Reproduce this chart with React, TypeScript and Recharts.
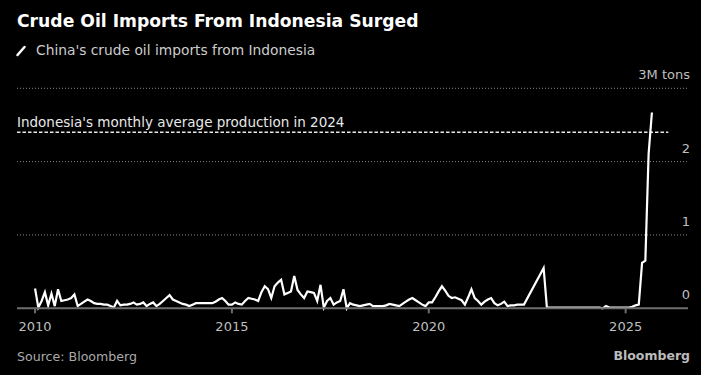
import React from 'react';
import { LineChart, Line, XAxis, YAxis, ReferenceLine } from 'recharts';

// China's crude oil imports from Indonesia, million tons, monthly from Jan 2010
const imports2010 = [0.27, 0.01, 0.1, 0.22, 0.04, 0.2, 0.03, 0.26, 0.1, 0.11, 0.12, 0.14];
const imports2011 = [0.19, 0.03, 0.06, 0.09, 0.12, 0.1, 0.07, 0.06, 0.06, 0.05, 0.05, 0.03];
const imports2012 = [0.01, 0.1, 0.04, 0.05, 0.05, 0.06, 0.08, 0.05, 0.06, 0.08, 0.03, 0.06];
const imports2013 = [0.08, 0.03, 0.06, 0.1, 0.14, 0.18, 0.12, 0.1, 0.08, 0.06, 0.05, 0.03];
const imports2014 = [0.05, 0.07, 0.07, 0.07, 0.07, 0.07, 0.07, 0.09, 0.12, 0.14, 0.1, 0.05];
const imports2015 = [0.05, 0.08, 0.06, 0.05, 0.1, 0.14, 0.13, 0.12, 0.1, 0.22, 0.3, 0.26];
const imports2016 = [0.14, 0.3, 0.35, 0.39, 0.19, 0.21, 0.23, 0.44, 0.25, 0.19, 0.14, 0.23];
const imports2017 = [0.22, 0.21, 0.1, 0.32, 0.01, 0.1, 0.14, 0.05, 0.08, 0.1, 0.26, 0.0];
const imports2018 = [0.07, 0.05, 0.04, 0.03, 0.04, 0.05, 0.06, 0.03, 0.03, 0.03, 0.03, 0.04];
const imports2019 = [0.06, 0.05, 0.04, 0.03, 0.06, 0.09, 0.12, 0.14, 0.11, 0.08, 0.05, 0.03];
const imports2020 = [0.08, 0.08, 0.15, 0.23, 0.3, 0.24, 0.17, 0.14, 0.15, 0.13, 0.11, 0.05];
const imports2021 = [0.15, 0.26, 0.14, 0.1, 0.05, 0.09, 0.12, 0.14, 0.07, 0.04, 0.06, 0.09];
const imports2022 = [0.03, 0.04, 0.04, 0.05, 0.05, 0.05, null, null, null, null, null, 0.55];
const imports2023 = [0.01, 0.01, 0.01, 0.01, 0.01, 0.01, 0.01, 0.01, 0.01, 0.01, 0.01, 0.01];
const imports2024 = [0.01, 0.01, 0.01, 0.01, 0.01, 0.0, 0.03, 0.01, 0.01, 0.01, 0.01, 0.01];
const imports2025 = [0.01, 0.01, 0.02, 0.04, 0.05, 0.62, 0.65, 2.11, 2.67];

const startYear = 2010;
const xTickYears = [2010, 2015, 2020, 2025];
const yTickValues = [0, 1, 2, 3];
const yTickLabels = ['0', '1', '2', '3M tons'];
const productionAvg2024 = 2.4;
const productionLabel = "Indonesia's monthly average production in 2024";

const allValues: (number | null)[] = [
  ...imports2010, ...imports2011, ...imports2012, ...imports2013,
  ...imports2014, ...imports2015, ...imports2016, ...imports2017,
  ...imports2018, ...imports2019, ...imports2020, ...imports2021,
  ...imports2022, ...imports2023, ...imports2024, ...imports2025,
];
const data = allValues.map((v, i) => ({ m: i, v }));
const xTicks = xTickYears.map((y) => (y - startYear) * 12);

const FONT = '"DejaVu Sans", Verdana, sans-serif';

const makeYLabel = (text: string) => (props: any) => {
  const vb = props.viewBox || {};
  return (
    <text x={vb.x + vb.width + 2} y={vb.y - 9} textAnchor="end" fontSize={13} fill="#bfbfbf" fontFamily={FONT}>
      {text}
    </text>
  );
};

const RefLabel = (props: any) => {
  const vb = props.viewBox || {};
  return (
    <text x={vb.x} y={vb.y - 5.5} fontSize={13.5} fill="#e8e8e8" fontFamily={FONT}>
      {productionLabel}
    </text>
  );
};

export default function App() {
  return (
    <div style={{ position: 'absolute', left: 0, top: 0, width: 701, height: 375, background: '#000', overflow: 'hidden', fontFamily: FONT }}>
      <svg width={701} height={375} style={{ position: 'absolute', left: 0, top: 0 }}>
        <text x={17} y={26.5} fontSize={17.2} fontWeight={700} fill="#ffffff" fontFamily={FONT}>
          Crude Oil Imports From Indonesia Surged
        </text>
        <line x1={17.5} y1={55} x2={24.5} y2={47} stroke="#ffffff" strokeWidth={2.5} strokeLinecap="round" />
        <text x={36} y={55} fontSize={13.8} fill="#cccccc" fontFamily={FONT}>
          China's crude oil imports from Indonesia
        </text>
        <text x={17} y={361} fontSize={12.6} fill="#aaaaaa" fontFamily={FONT}>
          Source: Bloomberg
        </text>
        <text x={690} y={360} textAnchor="end" fontSize={12.5} fontWeight={700} fill="#bbbbbb" fontFamily={FONT}>
          Bloomberg
        </text>
      </svg>
      <div style={{ position: 'absolute', left: 0, top: 0 }}>
        <LineChart width={701} height={375} data={data} margin={{ top: 88.3, right: 13, bottom: 36.7, left: 17 }}>
          <XAxis
            dataKey="m"
            type="number"
            domain={[-5.5, 199]}
            allowDataOverflow
            ticks={xTicks}
            tickFormatter={(v: number) => String(startYear + v / 12)}
            height={30}
            stroke="#6e6e6e"
            strokeWidth={2}
            tickSize={5}
            tickMargin={8}
            tick={{ fill: '#bfbfbf', fontSize: 13, fontFamily: FONT }}
          />
          <YAxis hide domain={[0, 3]} ticks={yTickValues} />
          {yTickValues.map((y, i) => (
            <ReferenceLine
              key={y}
              y={y}
              stroke="#8a8a8a"
              strokeOpacity={y === 0 ? 0 : 1}
              strokeWidth={1}
              strokeDasharray="1 2"
              label={makeYLabel(yTickLabels[i])}
            />
          ))}
          <ReferenceLine
            segment={[{ x: -5.5, y: productionAvg2024 }, { x: 193, y: productionAvg2024 }]}
            stroke="#e8e8e8"
            strokeWidth={1.6}
            strokeDasharray="3.5 2"
            label={<RefLabel />}
          />
          <Line
            type="linear"
            dataKey="v"
            stroke="#ffffff"
            strokeWidth={2.2}
            dot={false}
            connectNulls
            isAnimationActive={false}
          />
        </LineChart>
      </div>
    </div>
  );
}
